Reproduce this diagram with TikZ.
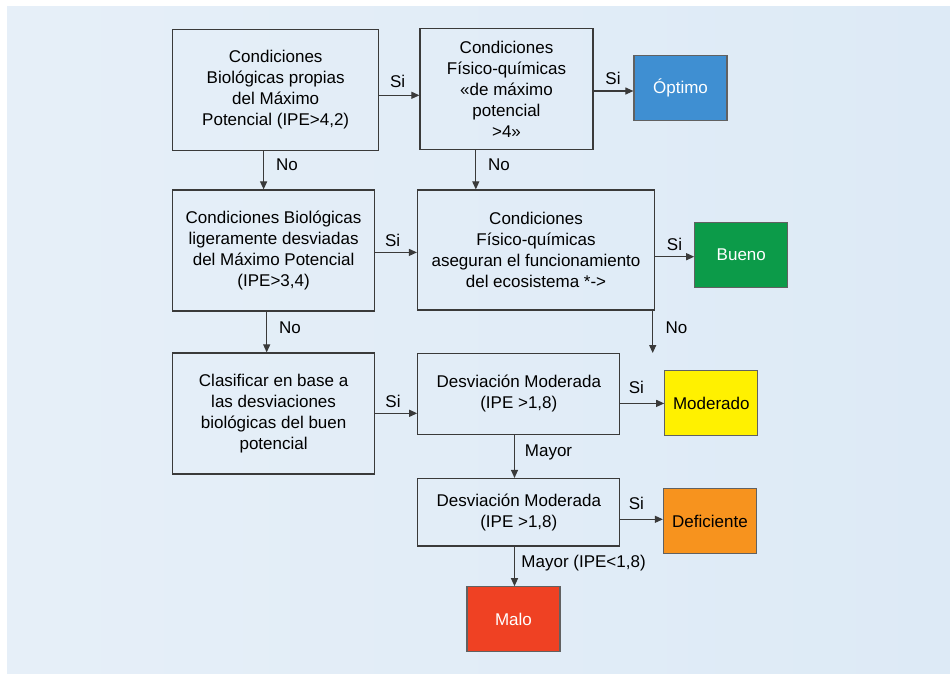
\documentclass[tikz,border=0pt]{standalone}
\usepackage{fontspec}
\setmainfont{Liberation Sans}
\usetikzlibrary{arrows.meta}
\definecolor{bgblue}{HTML}{DDEAF6}
\definecolor{bgleft}{HTML}{E6EFF8}
\definecolor{linegray}{HTML}{3A3A3A}
\definecolor{cblue}{HTML}{3F8FD2}
\definecolor{cgreen}{HTML}{0C9B49}
\definecolor{cyellow}{HTML}{FFF100}
\definecolor{corange}{HTML}{F7931E}
\definecolor{cred}{HTML}{EF4123}
\tikzset{
  box/.style={draw=linegray, line width=1.2pt, inner sep=0pt, align=center,
    font=\fontsize{17}{21}\selectfont},
  result/.style={draw=linegray!80, line width=1.2pt, inner sep=0pt, align=center,
    minimum width=93pt, minimum height=65pt, font=\fontsize{17}{21}\selectfont},
  arr/.style={draw=linegray, line width=1.1pt, -{Triangle[length=8pt,width=7pt]}},
  lbl/.style={font=\fontsize{17}{21}\selectfont, inner sep=0pt}
}
\begin{document}
\begin{tikzpicture}[x=1pt,y=-1pt]
\useasboundingbox (0,0) rectangle (950,673);
\fill[white] (0,0) rectangle (950,673);
\shade[left color=bgleft, right color=bgblue] (7,6) rectangle (950,673);

% first row
\node[box, minimum width=206pt, minimum height=121pt] (A) at (275.7,89.7)
  {Condiciones\\Biológicas propias\\del Máximo\\Potencial (IPE>4,2)};
\node[box, minimum width=173pt, minimum height=121pt] (B) at (506.5,88.9)
  {Condiciones\\Físico-químicas\\«de máximo\\potencial\\>4»};
\node[result, fill=cblue, text=white] (opt) at (680.5,87.8) {Óptimo};

% second row
\node[box, minimum width=202pt, minimum height=121pt] (C) at (273.6,250.5)
  {Condiciones Biológicas\\ligeramente desviadas\\del Máximo Potencial\\(IPE>3,4)};
\node[box, minimum width=237pt, minimum height=120pt] (D) at (536,250)
  {Condiciones\\Físico-químicas\\aseguran el funcionamiento\\del ecosistema *->};
\node[result, fill=cgreen, text=white] (bueno) at (741.3,254.8) {Bueno};

% third row
\node[box, minimum width=202pt, minimum height=121pt] (E) at (273.6,413.5)
  {Clasificar en base a\\las desviaciones\\biológicas del buen\\potencial};
\node[box, minimum width=202pt, minimum height=81pt] (F) at (518.8,393.7)
  {Desviación Moderada\\(IPE >1,8)};
\node[result, fill=cyellow, text=black] (mod) at (711.3,403.3) {Moderado};

% fourth row
\node[box, minimum width=202pt, minimum height=67.5pt] (G) at (518.8,512.3)
  {Desviación Moderada\\(IPE >1,8)};
\node[result, fill=corange, text=black] (def) at (710,521) {Deficiente};

\node[result, fill=cred, text=white] (malo) at (513.5,619.3) {Malo};

\coordinate (Dend) at (652.7,353);

% connectors
\draw[arr] (A.east |- 0,95.3) -- (B.west |- 0,95.3);
\node[lbl] (s1) at (397.6,81.5) {Si};
\draw[arr] (B.east |- 0,91) -- (opt.west |- 0,91);
\node[lbl] (s2) at (613,78.5) {Si};
\draw[arr] (A.south -| 263.6,0) -- (C.north -| 263.6,0);
\node[lbl] (n1) at (287,165) {No};
\draw[arr] (B.south -| 475.8,0) -- (D.north -| 475.8,0);
\node[lbl] (n2) at (499,165) {No};

\draw[arr] (C.east |- 0,252.4) -- (D.west |- 0,252.4);
\node[lbl] (s3) at (392.7,240) {Si};
\draw[arr] (D.east |- 0,256.7) -- (bueno.west |- 0,256.7);
\node[lbl] (s4) at (674.5,244) {Si};
\draw[arr] (C.south -| 266.7,0) -- (E.north -| 266.7,0);
\node[lbl] (n3) at (290,327.5) {No};
\draw[arr] (D.south -| Dend) -- (Dend);
\node[lbl] (n4) at (676.5,327.5) {No};

\draw[arr] (E.east |- 0,413.3) -- (F.west |- 0,413.3);
\node[lbl] (s5) at (393,401) {Si};
\draw[arr] (F.east |- 0,403.4) -- (mod.west |- 0,403.4);
\node[lbl] (s6) at (636.4,387) {Si};
\draw[arr] (F.south -| 514.5,0) -- (G.north -| 514.5,0);
\node[lbl] (m1) at (548.5,452.8) {Mayor};

\draw[arr] (G.east |- 0,519.3) -- (def.west |- 0,519.3);
\node[lbl] (s7) at (636.4,503) {Si};
\draw[arr] (G.south -| 514.5,0) -- (malo.north -| 514.5,0);
\node[lbl] (m2) at (583.6,563.5) {Mayor (IPE<1,8)};
\end{tikzpicture}
\end{document}
